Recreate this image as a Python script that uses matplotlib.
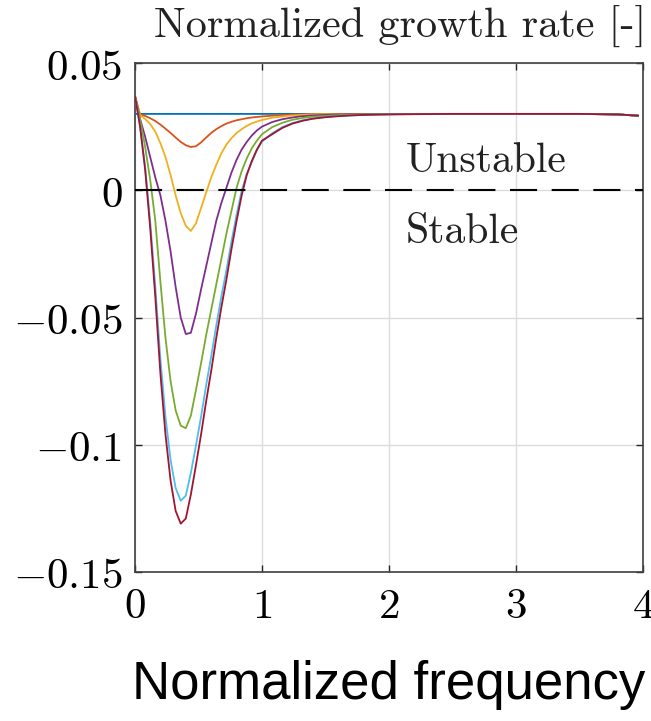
import matplotlib
matplotlib.use("Agg")
import matplotlib.pyplot as plt

# ---- data ----
freq = [0, 0.04, 0.08, 0.12, 0.16, 0.20, 0.24, 0.28, 0.32, 0.36, 0.40, 0.44, 0.48, 0.52,
        0.56, 0.60, 0.64, 0.68, 0.72, 0.76, 0.80, 0.84, 0.88, 0.92, 0.96, 1.00, 1.08, 1.16,
        1.24, 1.32, 1.40, 1.50, 1.60, 1.70, 1.80, 1.90, 2.00, 2.20, 2.50, 3.00, 3.50, 3.80, 3.96]

rate_blue = [0.030] * 41 + [0.0298, 0.0293]

rate_orange = [0.037, 0.0298, 0.0292, 0.0283, 0.0272, 0.0258, 0.0242, 0.0225, 0.0207, 0.0190,
               0.0177, 0.0170, 0.0173, 0.0188, 0.0207, 0.0225, 0.0240, 0.0252, 0.0262, 0.0269,
               0.0275, 0.0279, 0.0283, 0.0286, 0.0288, 0.0290, 0.0293, 0.0295, 0.0297, 0.0298,
               0.0299, 0.0300, 0.0300, 0.0300, 0.0300, 0.0300, 0.0300, 0.0300, 0.0300, 0.0300,
               0.0300, 0.0298, 0.0293]

rate_yellow = [0.037, 0.0295, 0.0280, 0.0260, 0.0230, 0.0185, 0.0130, 0.0060, -0.0020, -0.0090,
               -0.0140, -0.0160, -0.0130, -0.0070, -0.0010, 0.0050, 0.0100, 0.0145, 0.0180, 0.0205,
               0.0225, 0.0240, 0.0253, 0.0263, 0.0270, 0.0276, 0.0285, 0.0290, 0.0294, 0.0296,
               0.0298, 0.0299, 0.0299, 0.0300, 0.0300, 0.0300, 0.0300, 0.0300, 0.0300, 0.0300,
               0.0300, 0.0298, 0.0293]

rate_purple = [0.037, 0.0280, 0.0210, 0.0130, 0.0050, -0.0020, -0.0120, -0.0240, -0.0380, -0.0500,
               -0.0565, -0.0560, -0.0485, -0.0390, -0.0300, -0.0210, -0.0120, -0.0050, 0.0010, 0.0070,
               0.0120, 0.0160, 0.0190, 0.0215, 0.0235, 0.0250, 0.0268, 0.0279, 0.0286, 0.0291,
               0.0294, 0.0296, 0.0298, 0.0299, 0.0299, 0.0300, 0.0300, 0.0300, 0.0300, 0.0300,
               0.0300, 0.0298, 0.0293]

rate_green = [0.037, 0.0280, 0.0170, 0.0040, -0.0120, -0.0360, -0.0580, -0.0750, -0.0865, -0.0925,
              -0.0935, -0.0885, -0.0785, -0.0680, -0.0570, -0.0470, -0.0370, -0.0270, -0.0170, -0.0080,
              0.0010, 0.0075, 0.0125, 0.0165, 0.0195, 0.0220, 0.0248, 0.0265, 0.0277, 0.0284,
              0.0289, 0.0292, 0.0295, 0.0297, 0.0298, 0.0299, 0.0299, 0.0300, 0.0300, 0.0300,
              0.0300, 0.0298, 0.0293]

rate_cyan = [0.037, 0.0253, 0.0092, -0.0125, -0.0380, -0.0663, -0.0890, -0.1060, -0.1170, -0.1220,
             -0.1200, -0.1110, -0.1003, -0.0890, -0.0767, -0.0653, -0.0531, -0.0417, -0.0314, -0.0200,
             -0.0096, -0.0002, 0.0064, 0.0111, 0.0158, 0.0191, 0.0224, 0.0248, 0.0264, 0.0275,
             0.0282, 0.0288, 0.0292, 0.0294, 0.0296, 0.0297, 0.0298, 0.0299, 0.0300, 0.0300,
             0.0300, 0.0298, 0.0293]

rate_darkred = [0.037, 0.0250, 0.0080, -0.0150, -0.0420, -0.0720, -0.0960, -0.1140, -0.1260, -0.1310,
                -0.1290, -0.1195, -0.1080, -0.0960, -0.0830, -0.0710, -0.0580, -0.0460, -0.0350, -0.0230,
                -0.0120, -0.0020, 0.0060, 0.0115, 0.0160, 0.0195, 0.0220, 0.0245, 0.0262, 0.0273,
                0.0281, 0.0287, 0.0291, 0.0294, 0.0296, 0.0297, 0.0298, 0.0299, 0.0300, 0.0300,
                0.0300, 0.0298, 0.0293]

series = [rate_blue, rate_orange, rate_yellow, rate_purple, rate_green, rate_cyan, rate_darkred]
colors = ['#0072BD', '#D95319', '#EDB120', '#7E2F8E', '#77AC30', '#4DBEEE', '#A2142F']

xticks = [0, 1, 2, 3, 4]
xtick_labels = ['$0$', '$1$', '$2$', '$3$', '$4$']
yticks = [-0.15, -0.1, -0.05, 0, 0.05]
ytick_labels = ['$-0.15$', '$-0.1$', '$-0.05$', '$0$', '$0.05$']

title_text = 'Normalized growth rate [-]'
xlabel_text = 'Normalized frequency'
unstable_text = 'Unstable'
stable_text = 'Stable'

# ---- figure ----
plt.rcParams['mathtext.fontset'] = 'cm'
W, H = 651, 721
fig = plt.figure(figsize=(W / 100, H / 100), dpi=100)
ax = fig.add_axes([135 / W, 1 - 572 / H, 508 / W, 509 / H])

for y, c in zip(series, colors):
    ax.plot(freq, y, color=c, lw=1.3, zorder=3)

ax.axhline(0, color='black', lw=1.5, dashes=(13, 7), zorder=4)

ax.set_xlim(0, 4)
ax.set_ylim(-0.15, 0.05)
ax.set_xticks(xticks)
ax.set_xticklabels(xtick_labels)
ax.set_yticks(yticks)
ax.set_yticklabels(ytick_labels)
ax.grid(True, color='#dcdcdc', lw=1.0, zorder=0)
ax.tick_params(direction='in', length=5, width=1.0, colors='#262626',
               labelsize=31, top=True, right=True, labelcolor='black', pad=9)
for s in ax.spines.values():
    s.set_color('#404040')
    s.set_linewidth(1.2)

ax.text(2.13, 0.0071, unstable_text, fontfamily='cmr10', fontsize=30, color='#222222',
        ha='left', va='baseline', zorder=5)
ax.text(2.13, -0.0208, stable_text, fontfamily='cmr10', fontsize=30, color='#222222',
        ha='left', va='baseline', zorder=5)

fig.text(400 / W, 1 - 26 / H, title_text, fontfamily='cmr10', fontsize=30.5, color='#222222',
         ha='center', va='center')
fig.text(389 / W, 1 - 685 / H, xlabel_text, fontfamily=['Liberation Sans', 'DejaVu Sans'],
         fontsize=38, color='black', ha='center', va='center')

fig.savefig('out.png', dpi=100)
